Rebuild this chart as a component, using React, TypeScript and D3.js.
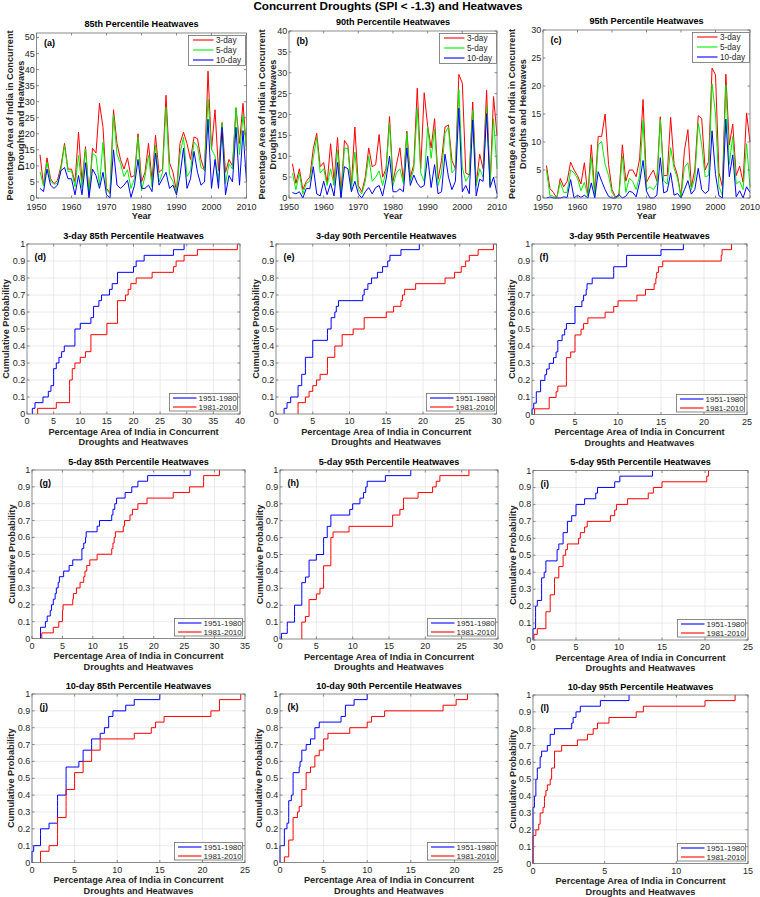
import React from 'react';
import * as d3 from 'd3';

// ---------------- DATA ----------------
const YEARS: number[] = d3.range(1951, 2011);

// 85th percentile heatwaves (% area of India in concurrent droughts and heatwaves)
const P85_3DAY = [13.5, 4, 12.5, 6, 4.5, 5.5, 10, 17, 9, 9, 5, 20.5, 5, 16, 1, 15.5, 14, 29.5, 22, 3, 1.5, 27.5, 17, 12, 9, 12.5, 6.5, 7, 20, 5,
  8, 17, 5.5, 19.5, 8, 9, 32, 11, 8, 2, 17, 20.5, 17, 12, 19, 18.5, 12, 8.5, 39.5, 15, 27.5, 8.5, 23.5, 8, 12, 10, 28, 17, 29.5, 15];
const P85_5DAY = [8.2, 3.8, 11.1, 5.2, 4.3, 4.5, 8.9, 16.4, 8.2, 8.5, 3.5, 13.3, 3.2, 15.3, 1.4, 13.9, 13.1, 4, 17.4, 2.5, 1.4, 26, 13.6, 10.7, 6.7, 8.8, 3, 6.1, 19, 2.2,
  6.8, 13.3, 3.5, 16.5, 5, 7.9, 28.2, 7.3, 5.1, 1.6, 13.7, 18.9, 6.7, 8.5, 17.4, 16.1, 9.5, 8.7, 30.8, 15.2, 13.1, 5, 23.2, 4.4, 10.7, 9, 28.2, 13.5, 25.9, 15];
const P85_10DAY = [3, 2, 9, 4, 3, 4, 8.5, 9.5, 6, 6, 1, 7, 1, 11, 0, 9, 7, 3, 8, 1, 0, 15, 4, 3, 4, 5.5, 0.2, 4, 12, 3,
  3, 4, 2, 14, 4, 6, 8, 3, 4, 1, 7, 15.5, 3, 6, 14.5, 8, 4, 5, 24.5, 3, 12, 3, 22, 1, 7, 5, 22, 4, 21, 5];

// 90th percentile heatwaves
const P90_3DAY = [8.2, 3.5, 7, 2, 4, 5, 11.8, 15.5, 7.5, 8.5, 3.5, 13, 4, 14.5, 1.1, 13.8, 12.5, 3, 17, 3, 1.5, 5, 12, 7.5, 8, 15.2, 5, 7, 19.5, 4,
  8, 12, 4, 16, 5, 8, 26.3, 7, 25.2, 17.2, 12, 19, 4.5, 9, 17, 17.5, 9, 7, 29.6, 27.5, 6, 5.5, 23, 3, 10.5, 7, 25.8, 3, 24.3, 15];
const P90_5DAY = [6, 2, 6, 1, 3.5, 4, 9.6, 14.5, 6, 7, 3, 7, 3, 11.5, 0.2, 12, 11.8, 2, 11, 2, 1, 4, 10, 4, 5, 6.5, 3, 6.5, 18, 3,
  6, 7, 3.5, 15.5, 4, 7, 21.5, 6, 4, 17, 9.5, 16.5, 3, 6, 15.5, 17, 6, 7, 26, 7.3, 4, 5.5, 21, 3, 7, 5, 22, 3, 19, 7];
const P90_10DAY = [1.3, 1, 1.5, 0, 2.3, 2.2, 7.5, 1, 0.5, 4, 0.8, 3.5, 0.5, 8.5, 0, 7.5, 7, 1.5, 4, 1, 0, 1.5, 2.5, 1, 2.5, 3, 0.5, 4.5, 10, 1.5,
  1.5, 2.2, 1.5, 12, 3, 5.5, 3.5, 2.5, 3, 10, 2.5, 8, 1, 1.5, 10.5, 5, 2, 4, 21.5, 1.5, 3, 1, 18.7, 0.5, 4.5, 4, 20.2, 2.5, 5, 1];

// 95th percentile heatwaves
const P95_3DAY = [5.8, 1.7, 1, 0, 3.5, 2, 3, 6.4, 5, 4, 2.5, 6.3, 0.5, 9.5, 1, 11, 11, 15, 6, 1.5, 0.2, 0.5, 9.5, 3, 5, 5, 3.8, 7, 17.6, 2.8,
  4, 5, 3, 14.5, 4, 4, 14.4, 6, 4, 0.3, 8.5, 12.2, 2, 5, 14.7, 14.2, 5, 6.5, 23.2, 22, 4.5, 2, 22.1, 9.5, 13.2, 4, 5.7, 2.8, 15.2, 10];
const P95_5DAY = [5, 0.5, 0.3, 0, 2.8, 1, 1, 5, 4.5, 3.5, 1.3, 2.8, 0.3, 7.3, 0.3, 9.5, 10.1, 6, 4, 1, 0, 0.3, 7.5, 1, 3.5, 3, 1.5, 4, 13.9, 1.5,
  2, 1.5, 2.5, 14, 3, 2.5, 9, 5.3, 3.5, 0.1, 5.5, 6.3, 1.5, 3.5, 13.4, 9.5, 3.8, 4, 20.4, 15, 2, 0.5, 20.2, 6, 11, 2.5, 3, 1.5, 9.7, 2];
const P95_10DAY = [0, 0.2, 0, 0, 0, 0.2, 0.1, 3.3, 0, 0.5, 0.1, 0.5, 0, 2.7, 0, 4.7, 3, 1.5, 0.3, 0, 0, 0.6, 0, 0.3, 1.2, 1, 0.2, 2.8, 6.7, 1.2,
  0, 0, 0.5, 7.2, 0.9, 1.2, 4.5, 0.5, 0.8, 0, 1.5, 3.1, 0.7, 1.5, 5.3, 1.5, 0.8, 1.3, 12, 4.2, 0.4, 0, 14.1, 3.8, 7.7, 0.2, 1.3, 0, 2, 1];

const DURATIONS = ['3-day', '5-day', '10-day'];
const PERIODS = ['1951-1980', '1981-2010'];
const PERIOD_SPLIT = 1980;
const YEAR_TICKS = [1950, 1960, 1970, 1980, 1990, 2000, 2010];
const PROB_TICKS = [0, 0.1, 0.2, 0.3, 0.4, 0.5, 0.6, 0.7, 0.8, 0.9, 1];
const PROB_TICK_LABELS = ['0', '0.1', '0.2', '0.3', '0.4', '0.5', '0.6', '0.7', '0.8', '0.9', '1'];

const MAIN_TITLE = 'Concurrent Droughts (SPI < -1.3) and Heatwaves';
const AREA_LABEL = ['Percentage Area of India in Concurrent', 'Droughts and Heatwaves'];

// ---------------- STYLE / LAYOUT ----------------
const FONT = '"Liberation Sans", Arial, Helvetica, sans-serif';
const AXIS = '#6e6e6e';
const TXT = '#262626';
const GRID = '#e4e4e4';
const TS_COLORS = ['#ff0000', '#00ee00', '#0000ff'];
const CDF_COLORS = ['#0000ff', '#ff0000'];

type Box = { l: number; r: number; t: number; b: number };

const TS_PANELS = [
  { letter: '(a)', title: '85th Percentile Heatwaves', series: [P85_3DAY, P85_5DAY, P85_10DAY], yMax: 51.4, yStep: 5, box: { l: 36.5, r: 246.5, t: 33, b: 198 }, ylab: [9.5, 20.5] },
  { letter: '(b)', title: '90th Percentile Heatwaves', series: [P90_3DAY, P90_5DAY, P90_10DAY], yMax: 40, yStep: 5, box: { l: 289, r: 497, t: 31, b: 198 }, ylab: [261.5, 273] },
  { letter: '(c)', title: '95th Percentile Heatwaves', series: [P95_3DAY, P95_5DAY, P95_10DAY], yMax: 30, yStep: 5, box: { l: 543, r: 750, t: 30, b: 198 }, ylab: [511.5, 523] },
];

const CDF_PANELS = [
  { letter: '(d)', title: '3-day 85th Percentile Heatwaves', values: P85_3DAY, xMax: 40, box: { l: 27, r: 240, t: 244, b: 414 }, ylab: 6 },
  { letter: '(e)', title: '3-day 90th Percentile Heatwaves', values: P90_3DAY, xMax: 30, box: { l: 276, r: 496.5, t: 244, b: 414 }, ylab: 256 },
  { letter: '(f)', title: '3-day 95th Percentile Heatwaves', values: P95_3DAY, xMax: 25, box: { l: 532, r: 747, t: 244, b: 414.5 }, ylab: 512 },
  { letter: '(g)', title: '5-day 85th Percentile Heatwaves', values: P85_5DAY, xMax: 35, box: { l: 32, r: 245, t: 470, b: 638.5 }, ylab: 11.5 },
  { letter: '(h)', title: '5-day 95th Percentile Heatwaves', values: P90_5DAY, xMax: 30, box: { l: 280, r: 498, t: 470, b: 639 }, ylab: 260 },
  { letter: '(i)', title: '5-day 95th Percentile Heatwaves', values: P95_5DAY, xMax: 25, box: { l: 533, r: 748, t: 470.5, b: 640 }, ylab: 513 },
  { letter: '(j)', title: '10-day 85th Percentile Heatwaves', values: P85_10DAY, xMax: 25, box: { l: 32, r: 245, t: 694, b: 862.5 }, ylab: 11 },
  { letter: '(k)', title: '10-day 90th Percentile Heatwaves', values: P90_10DAY, xMax: 25, box: { l: 280, r: 498, t: 694, b: 862.5 }, ylab: 259 },
  { letter: '(l)', title: '10-day 95th Percentile Heatwaves', values: P95_10DAY, xMax: 15, box: { l: 533, r: 748, t: 695, b: 863.5 }, ylab: 513 },
];

// ---------------- COMPONENTS ----------------
function Frame({ box, xs, ys, tick = 2.5 }: { box: Box; xs: number[]; ys: number[]; tick?: number }) {
  return (
    <g stroke={AXIS} strokeWidth={0.8} fill="none">
      {xs.map((px, i) => (
        <g key={'x' + i}>
          <line x1={px} x2={px} y1={box.b} y2={box.b - tick} />
          <line x1={px} x2={px} y1={box.t} y2={box.t + tick} />
        </g>
      ))}
      {ys.map((py, i) => (
        <g key={'y' + i}>
          <line x1={box.l} x2={box.l + tick} y1={py} y2={py} />
          <line x1={box.r} x2={box.r - tick} y1={py} y2={py} />
        </g>
      ))}
      <rect x={box.l} y={box.t} width={box.r - box.l} height={box.b - box.t} />
    </g>
  );
}

function TsPanel({ p }: { p: typeof TS_PANELS[number] }) {
  const { box } = p;
  const x = d3.scaleLinear().domain([1950, 2010]).range([box.l, box.r]);
  const y = d3.scaleLinear().domain([0, p.yMax]).range([box.b, box.t]);
  const yTicks = d3.range(0, p.yMax + 0.001, p.yStep);
  const line = d3.line<number>().x((_, i) => x(YEARS[i])).y((v) => y(v));
  const cx = (box.l + box.r) / 2;
  const cy = (box.t + box.b) / 2;
  const lg = { x: Math.round(box.r - 58.5) + 0.5, y: Math.round(box.t + 2) + 0.5, w: 57, h: 30 };
  return (
    <g fontFamily={FONT}>
      <rect x={box.l} y={box.t} width={box.r - box.l} height={box.b - box.t} fill="#fff" />
      <g fill="none" strokeWidth={1}>
        {p.series.map((s, i) => (
          <path key={i} d={line(s) || ''} stroke={TS_COLORS[i]} strokeLinejoin="round" />
        ))}
      </g>
      <Frame box={box} xs={YEAR_TICKS.map((t) => x(t))} ys={yTicks.map((t) => y(t))} />
      <g fontSize={9} fill={TXT}>
        {YEAR_TICKS.map((t) => (
          <text key={t} x={x(t)} y={box.b + 11.5} textAnchor="middle">{t}</text>
        ))}
        {yTicks.map((t) => (
          <text key={t} x={box.l - 1.8} y={y(t)} textAnchor="end" dominantBaseline="central">{t}</text>
        ))}
      </g>
      <text x={cx} y={box.t - 6} textAnchor="middle" fontSize={9.1} fontWeight="bold" fill="#000">{p.title}</text>
      <text x={cx} y={218.5} textAnchor="middle" fontSize={9.2} fontWeight="bold" fill={TXT}>Year</text>
      {AREA_LABEL.map((s, i) => (
        <text key={i} transform={`translate(${p.ylab[i]},${cy}) rotate(-90)`} textAnchor="middle" dominantBaseline="central" fontSize={9.2} fontWeight="bold" fill={TXT}>{s}</text>
      ))}
      <text x={box.l + 7.5} y={box.t + 9.5} dominantBaseline="central" fontSize={9} fontWeight="bold" fill="#000">{p.letter}</text>
      <g>
        <rect x={lg.x} y={lg.y} width={lg.w} height={lg.h} fill="#fff" stroke={AXIS} strokeWidth={0.8} />
        {DURATIONS.map((d, i) => {
          const ly = lg.y + 4.5 + i * 10;
          return (
            <g key={d}>
              <line x1={lg.x + 4.5} x2={lg.x + 25} y1={ly} y2={ly} stroke={TS_COLORS[i]} strokeWidth={1.1} />
              <text x={lg.x + 27.5} y={ly + 0.5} dominantBaseline="central" fontSize={8.2} fill={TXT}>{d}</text>
            </g>
          );
        })}
      </g>
    </g>
  );
}

function ecdfPoints(vals: number[]): [number, number][] {
  const s = d3.sort(vals);
  const n = s.length;
  const pts: [number, number][] = [[s[0], 0]];
  s.forEach((v, i) => pts.push([v, (i + 1) / n]));
  return pts;
}

function CdfPanel({ p }: { p: typeof CDF_PANELS[number] }) {
  const { box } = p;
  const x = d3.scaleLinear().domain([0, p.xMax]).range([box.l, box.r]);
  const y = d3.scaleLinear().domain([0, 1]).range([box.b, box.t]);
  const xTicks = d3.range(0, p.xMax + 0.001, 5);
  const periods = [
    p.values.filter((_, i) => YEARS[i] <= PERIOD_SPLIT),
    p.values.filter((_, i) => YEARS[i] > PERIOD_SPLIT),
  ];
  const stair = d3.line<[number, number]>().x((d) => x(d[0])).y((d) => y(d[1])).curve(d3.curveStepAfter);
  const cx = (box.l + box.r) / 2;
  const cy = (box.t + box.b) / 2;
  const lg = { x: Math.round(box.r - 71) + 0.5, y: Math.round(box.b - 21) + 0.5, w: 68, h: 17.5 };
  return (
    <g fontFamily={FONT}>
      <rect x={box.l} y={box.t} width={box.r - box.l} height={box.b - box.t} fill="#fff" />
      <g stroke={GRID} strokeWidth={0.8}>
        {xTicks.slice(1, -1).map((t) => (
          <line key={'gx' + t} x1={x(t)} x2={x(t)} y1={box.t} y2={box.b} />
        ))}
        {PROB_TICKS.slice(1, -1).map((t) => (
          <line key={'gy' + t} x1={box.l} x2={box.r} y1={y(t)} y2={y(t)} />
        ))}
      </g>
      <g fill="none" strokeWidth={1}>
        {periods.map((vals, i) => (
          <path key={i} d={stair(ecdfPoints(vals)) || ''} stroke={CDF_COLORS[i]} />
        ))}
      </g>
      <Frame box={box} xs={xTicks.map((t) => x(t))} ys={PROB_TICKS.map((t) => y(t))} />
      <g fontSize={9} fill={TXT}>
        {xTicks.map((t) => (
          <text key={t} x={x(t)} y={box.b + 10} textAnchor="middle">{t}</text>
        ))}
        {PROB_TICKS.map((t, i) => (
          <text key={t} x={box.l - 1.8} y={y(t)} textAnchor="end" dominantBaseline="central">{PROB_TICK_LABELS[i]}</text>
        ))}
      </g>
      <text x={cx} y={box.t - 5.5} textAnchor="middle" fontSize={9.1} fontWeight="bold" fill="#000">{p.title}</text>
      {AREA_LABEL.map((s, i) => (
        <text key={i} x={cx} y={box.b + 20.5 + i * 10.5} textAnchor="middle" fontSize={9.2} fontWeight="bold" fill={TXT}>{s}</text>
      ))}
      <text transform={`translate(${p.ylab},${cy}) rotate(-90)`} textAnchor="middle" dominantBaseline="central" fontSize={9.2} fontWeight="bold" fill={TXT}>Cumulative Probability</text>
      <text x={box.l + 7.5} y={box.t + 13} dominantBaseline="central" fontSize={9} fontWeight="bold" fill="#000">{p.letter}</text>
      <g>
        <rect x={lg.x} y={lg.y} width={lg.w} height={lg.h} fill="#fff" stroke={AXIS} strokeWidth={0.8} />
        {PERIODS.map((d, i) => {
          const ly = lg.y + 4.5 + i * 9;
          return (
            <g key={d}>
              <line x1={lg.x + 3.5} x2={lg.x + 27} y1={ly} y2={ly} stroke={CDF_COLORS[i]} strokeWidth={1.1} />
              <text x={lg.x + 29} y={ly + 0.3} dominantBaseline="central" fontSize={8} fill={TXT}>{d}</text>
            </g>
          );
        })}
      </g>
    </g>
  );
}

export default function App() {
  return (
    <svg width={760} height={897} viewBox="0 0 760 897" style={{ position: 'absolute', left: 0, top: 0, display: 'block', background: '#fff' }}>
      <rect x={0} y={0} width={760} height={897} fill="#fff" />
      <text x={388} y={10} textAnchor="middle" fontFamily={FONT} fontSize={11.7} fontWeight="bold" fill="#000">{MAIN_TITLE}</text>
      {TS_PANELS.map((p) => <TsPanel key={p.letter} p={p} />)}
      {CDF_PANELS.map((p) => <CdfPanel key={p.letter} p={p} />)}
    </svg>
  );
}
